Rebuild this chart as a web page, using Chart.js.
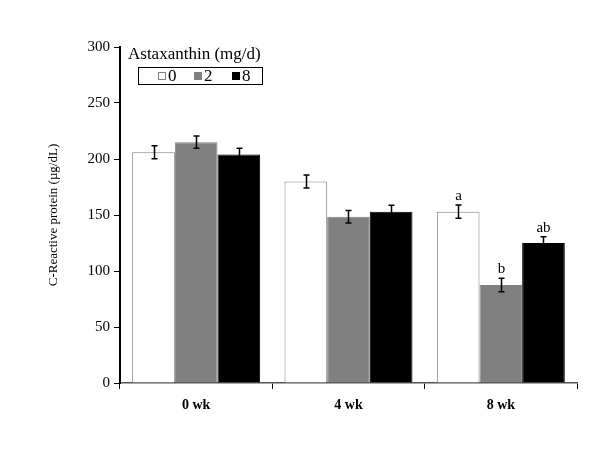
<!DOCTYPE html>
<html>
<head>
<meta charset="utf-8">
<script src="https://cdn.jsdelivr.net/npm/chart.js@4"></script>
<style>
  html, body { margin: 0; padding: 0; background: #fff; }
  #wrap { width: 600px; height: 449px; }
</style>
</head>
<body>
<div id="wrap"><canvas id="crpChart" width="600" height="449"></canvas></div>
<script>
// weeks of supplementation
const weeks = ['0 wk', '4 wk', '8 wk'];
// astaxanthin dose groups (mg/d)
const doses = ['0', '2', '8'];

// C-reactive protein means (µg/dL) per dose group
const crp0 = [206, 180, 153];
const crp2 = [215, 148.5, 87.5];
const crp8 = [204, 153, 125];

// standard errors
const err0 = [5.8, 5.8, 5.9];
const err2 = [5.5, 5.6, 6];
const err8 = [5.6, 5.6, 5.6];

// significance letters
const sig0 = ['', '', 'a'];
const sig2 = ['', '', 'b'];
const sig8 = ['', '', 'ab'];

const yTicks = [0, 50, 100, 150, 200, 250, 300];

const serif = '"Liberation Serif", "Times New Roman", serif';
const fills = ['#ffffff', '#808080', '#000000'];
const edges = ['#808080', '#808080', '#000000'];
const errs = [err0, err2, err8];
const sigs = [sig0, sig2, sig8];

// --- error bars + letters ---
const errorBars = {
    id: 'errorBars',
    afterDatasetsDraw(chart) {
        const ctx = chart.ctx;
        const y = chart.scales.y;
        ctx.save();
        ctx.strokeStyle = '#000';
        ctx.lineWidth = 1.5;
        chart.data.datasets.forEach((ds, i) => {
            const meta = chart.getDatasetMeta(i);
            meta.data.forEach((bar, j) => {
                const v = ds.data[j];
                const e = errs[i][j];
                const x = Math.round(bar.x) + 0.5;
                const top = y.getPixelForValue(v + e);
                const bot = y.getPixelForValue(v - e);
                ctx.beginPath();
                ctx.moveTo(x, top); ctx.lineTo(x, bot);
                ctx.moveTo(x - 3, top); ctx.lineTo(x + 3, top);
                ctx.moveTo(x - 3, bot); ctx.lineTo(x + 3, bot);
                ctx.stroke();
                const s = sigs[i][j];
                if (s) {
                    ctx.fillStyle = '#000';
                    ctx.font = '15px ' + serif;
                    ctx.textAlign = 'center';
                    ctx.textBaseline = 'alphabetic';
                    ctx.fillText(s, x, top - 5);
                }
            });
        });
        ctx.restore();
    }
};

// --- boxed legend with title ---
const boxLegend = {
    id: 'boxLegend',
    afterDraw(chart) {
        const ctx = chart.ctx;
        ctx.save();
        ctx.fillStyle = '#000';
        ctx.font = '17px ' + serif;
        ctx.textAlign = 'left';
        ctx.textBaseline = 'middle';
        ctx.fillText('Astaxanthin (mg/d)', 128, 55);

        ctx.strokeStyle = '#000';
        ctx.lineWidth = 1;
        ctx.strokeRect(138.5, 67.5, 124, 17);

        const sx = [158, 194, 232];
        ctx.font = '17px ' + serif;
        doses.forEach((d, i) => {
            ctx.fillStyle = fills[i];
            ctx.fillRect(sx[i], 72, 8, 8);
            ctx.strokeStyle = edges[i];
            ctx.strokeRect(sx[i] + 0.5, 72.5, 7, 7);
            ctx.fillStyle = '#000';
            ctx.fillText(d, sx[i] + 10, 77);
        });
        ctx.restore();
    }
};

const bgWhite = {
    id: 'bgWhite',
    beforeDraw(chart) {
        const ctx = chart.ctx;
        ctx.save();
        ctx.fillStyle = '#fff';
        ctx.fillRect(0, 0, chart.width, chart.height);
        ctx.restore();
    }
};

const datasets = [crp0, crp2, crp8].map((vals, i) => ({
    label: doses[i],
    data: vals,
    backgroundColor: fills[i],
    borderColor: edges[i],
    borderWidth: 1,
    borderSkipped: 'bottom',
    categoryPercentage: 0.84,
    barPercentage: 1.0
}));

new Chart(document.getElementById('crpChart'), {
    type: 'bar',
    data: { labels: weeks, datasets: datasets },
    options: {
        responsive: false,
        animation: false,
        layout: { padding: { left: 0, top: 47, right: 23, bottom: 0 } },
        plugins: {
            legend: { display: false },
            tooltip: { enabled: false }
        },
        scales: {
            x: {
                afterFit: s => { s.height = 66; },
                border: { color: '#555', width: 1.5 },
                grid: {
                    offset: true,
                    drawOnChartArea: false,
                    drawTicks: true,
                    tickLength: 6,
                    color: '#000'
                },
                ticks: {
                    color: '#000',
                    padding: 8,
                    font: { family: serif, size: 14, weight: 'bold' }
                }
            },
            y: {
                min: 0,
                max: 300,
                afterFit: s => { s.width = 120; },
                afterBuildTicks: s => { s.ticks = yTicks.map(v => ({ value: v })); },
                border: { color: '#000', width: 2 },
                grid: {
                    drawOnChartArea: false,
                    drawTicks: true,
                    tickLength: 6,
                    color: '#000'
                },
                ticks: {
                    color: '#000',
                    padding: 4,
                    font: { family: serif, size: 15 }
                },
                title: {
                    display: true,
                    text: 'C-Reactive protein (µg/dL)',
                    color: '#000',
                    padding: { top: 46, bottom: 0 },
                    font: { family: serif, size: 13 }
                }
            }
        }
    },
    plugins: [bgWhite, errorBars, boxLegend]
});
</script>
</body>
</html>
